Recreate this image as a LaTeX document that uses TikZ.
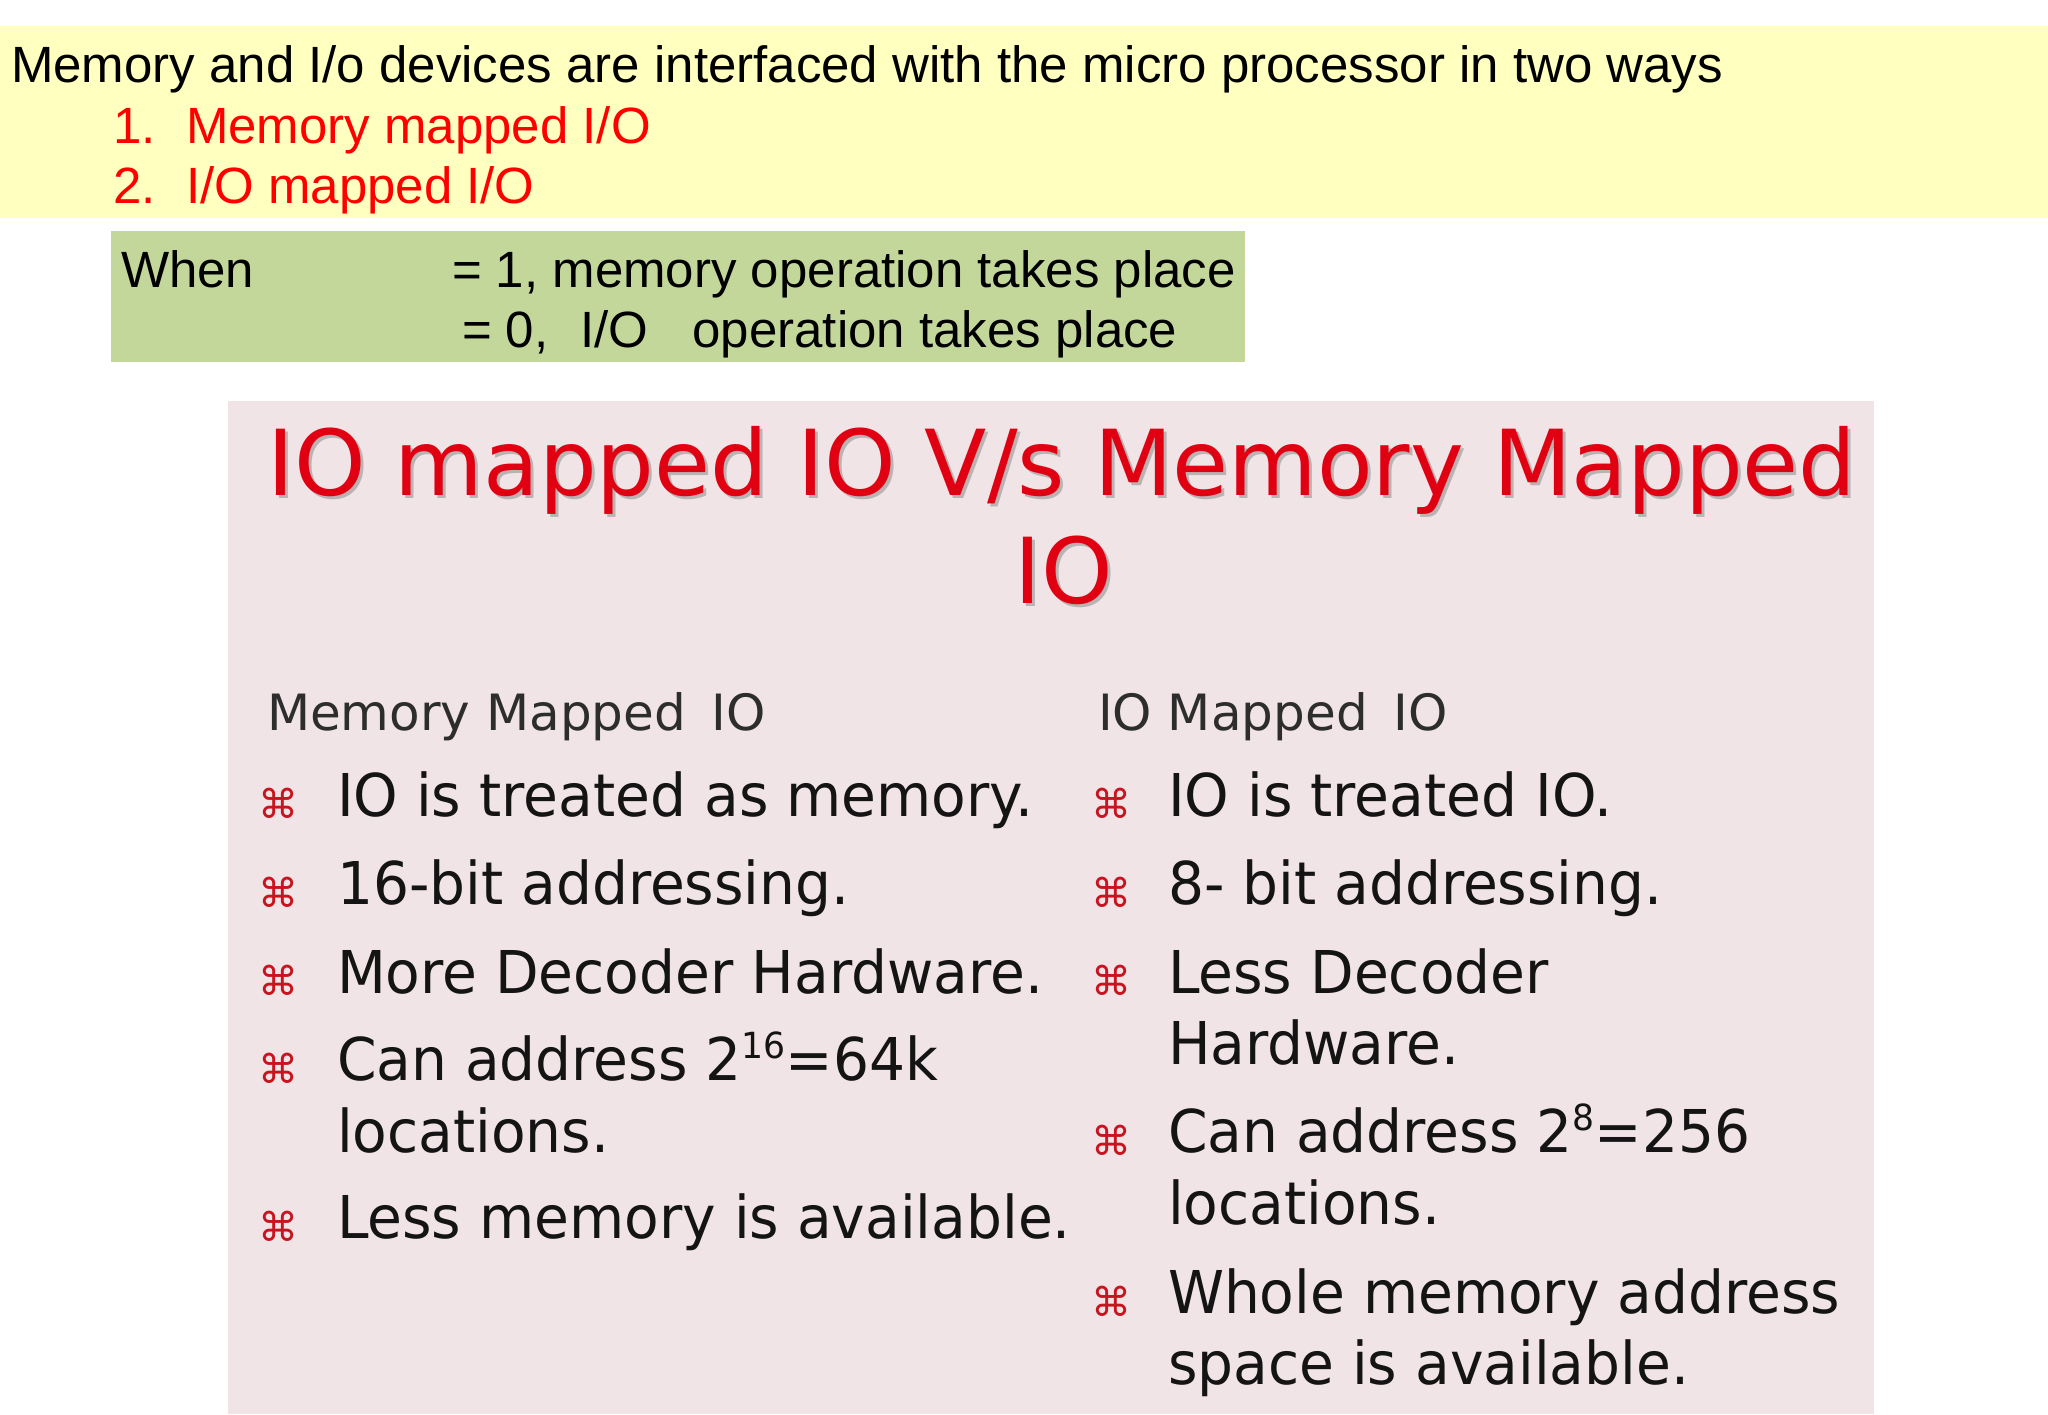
\documentclass[tikz,border=0pt]{standalone}
\usepackage{fontspec}
\setmainfont{Liberation Sans}
\newfontfamily\bodyfont[FakeStretch=0.96]{DejaVu Sans}
\newfontfamily\headfont[FakeStretch=1.0]{DejaVu Sans}
\newfontfamily\titlefont{DejaVu Sans}
\newfontfamily\symfont{DejaVu Sans}
\definecolor{yellowbg}{RGB}{255,255,192}
\definecolor{greenbg}{RGB}{196,215,155}
\definecolor{pinkbg}{RGB}{240,228,230}
\definecolor{itemred}{RGB}{255,0,0}
\definecolor{titlered}{RGB}{225,0,18}
\definecolor{bulred}{RGB}{200,20,30}
\definecolor{headgray}{RGB}{45,45,45}
\definecolor{bodyblack}{RGB}{20,20,20}
\newcommand{\supnum}[1]{\raisebox{22pt}{\fontsize{36}{36}\selectfont #1}}
\begin{document}
\begin{tikzpicture}[x=1pt,y=-1pt,
  txt/.style={anchor=base west, inner sep=0pt, outer sep=0pt},
  topline/.style={txt, font=\fontsize{51}{54}\selectfont},
  reditem/.style={topline, text=itemred},
  heading/.style={txt, text=headgray, font=\headfont\fontsize{50}{52}\selectfont},
  item/.style={txt, text=bodyblack, font=\bodyfont\fontsize{59}{60}\selectfont},
  bul/.style={anchor=center, inner sep=0pt, text=bulred, font=\symfont\fontsize{40}{40}\selectfont},
  titletext/.style={anchor=base, inner sep=0pt, text=titlered, font=\titlefont\fontsize{91}{95}\selectfont},
  tshadow/.style={titletext, text=black!45, opacity=0.55}]
\useasboundingbox (0,0) rectangle (2048,1414);
% backgrounds
\fill[yellowbg] (0,26) rectangle (2048,218);
\fill[greenbg] (111,231) rectangle (1245,362);
\fill[pinkbg] (228,401) rectangle (1874,1414);
% yellow box text
\node[topline] (l1) at (11,82) {Memory and I/o devices are interfaced with the micro processor in two ways};
\node[reditem] (n1) at (113,143) {1.};
\node[reditem] (i1) at (186,143) {Memory mapped I/O};
\node[reditem] (n2) at (113,203) {2.};
\node[reditem] (i2) at (186,203) {I/O mapped I/O};
% green box text
\node[topline] (when) at (121,287) {When};
\node[topline] (eq1) at (452,287) {= 1, memory operation takes place};
\node[topline] (eq0) at (462,347) {= 0,\hspace{32pt}I/O\hspace{44pt}operation takes place};
% title
\node[tshadow] (tsh1) at (1065,498) {IO mapped IO V/s Memory Mapped};
\node[titletext] (t1) at (1062,495) {IO mapped IO V/s Memory Mapped};
\node[tshadow] (tsh2) at (1067,606) {IO};
\node[titletext] (t2) at (1064,603) {IO};
% headings
\node[heading] (hl) at (267,730) {Memory Mapped\hspace{10pt} IO};
\node[heading] (hr) at (1098,730) {IO Mapped\hspace{10pt} IO};
% left column
\node[bul] (bl1) at (278,803) {⌘};
\node[item] (l1a) at (337,816) {IO is treated as memory.};
\node[bul] (bl2) at (278,892) {⌘};
\node[item] (l2a) at (337,904) {16-bit addressing.};
\node[bul] (bl3) at (278,980) {⌘};
\node[item] (l3a) at (337,993) {More Decoder Hardware.};
\node[bul] (bl4) at (278,1068) {⌘};
\node[item] (l4a) at (337,1080) {Can address 2\supnum{16}=64k};
\node[item] (l4b) at (337,1152) {locations.};
\node[bul] (bl5) at (278,1226) {⌘};
\node[item] (l5a) at (337,1238) {Less memory is available.};
% right column
\node[bul] (br1) at (1111,803) {⌘};
\node[item] (r1a) at (1168,816) {IO is treated IO.};
\node[bul] (br2) at (1111,892) {⌘};
\node[item] (r2a) at (1168,904) {8- bit addressing.};
\node[bul] (br3) at (1111,980) {⌘};
\node[item] (r3a) at (1168,993) {Less Decoder};
\node[item] (r3b) at (1168,1064) {Hardware.};
\node[bul] (br4) at (1111,1140) {⌘};
\node[item] (r4a) at (1168,1152) {Can address 2\supnum{8}=256};
\node[item] (r4b) at (1168,1224) {locations.};
\node[bul] (br5) at (1111,1301) {⌘};
\node[item] (r5a) at (1168,1313) {Whole memory address};
\node[item] (r5b) at (1168,1384) {space is available.};
\end{tikzpicture}
\end{document}
